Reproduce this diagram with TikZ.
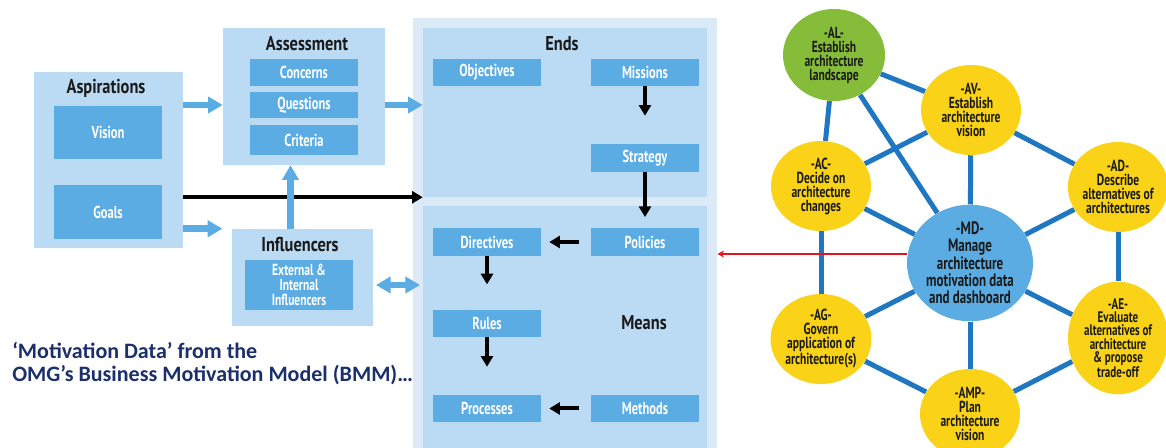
\documentclass[tikz,border=0pt]{standalone}
\usepackage{fontspec}
\setmainfont{PT Sans}
\newfontfamily\cnd[FakeStretch=0.72]{PT Sans}
\newfontfamily\hdf[FakeStretch=0.82]{PT Sans}
\newfontfamily\notefont{Carlito}
\usetikzlibrary{arrows.meta,shapes.geometric,calc,backgrounds}
\definecolor{pale}{HTML}{DCEAF7}
\definecolor{light}{HTML}{BBDAF3}
\definecolor{mid}{HTML}{5AACE3}
\definecolor{edgeblue}{HTML}{1E77C0}
\definecolor{sun}{HTML}{FAD318}
\definecolor{leaf}{HTML}{85BD3B}
\definecolor{navy}{HTML}{1B2F6B}
\definecolor{ink}{HTML}{1A1A1A}
\definecolor{arrowred}{HTML}{E3141B}

\begin{document}
\begin{tikzpicture}[x=0.75pt,y=-0.75pt,
  container/.style={fill=pale, draw=none, inner sep=0},
  panel/.style={fill=light, draw=none, inner sep=0},
  item/.style={fill=mid, draw=none, inner sep=0, text=white,
    font=\cnd\bfseries\fontsize{13}{10.5}\selectfont, align=center,
    minimum width=81pt, minimum height=20.25pt},
  heading/.style={text=ink, font=\hdf\bfseries\fontsize{15}{15}\selectfont, inner sep=0},
  flow/.style={-{Triangle[length=8pt,width=9pt]}, line width=3pt, black},
  feed/.style={-{Triangle[length=11pt,width=12pt]}, line width=5pt, mid},
  link/.style={line width=3.75pt, edgeblue},
  phase/.style={ellipse, inner sep=0, fill=sun, minimum width=75pt, minimum height=67.5pt,
    align=center, text=ink, font=\cnd\bfseries\fontsize{12}{10.5}\selectfont},
]
\useasboundingbox (0,0) rectangle (1166,448);

% ---------- Business Motivation Model ----------
\node[container, minimum width=228pt, minimum height=322.5pt] (bmm) at (565,233) {};
\node[panel, minimum width=213pt, minimum height=126.75pt] (ends) at (565,112.5) {};
\node[panel, minimum width=213pt, minimum height=181.5pt] (means) at (565,327) {};
\node[heading] (endsT) at (562,44) {Ends};
\node[heading] (meansT) at (644,323) {Means};

\node[item] (obj) at (487,72.5) {Objectives};
\node[item] (mis) at (645,72.5) {Missions};
\node[item, minimum height=21pt] (str) at (645,158) {Strategy};
\node[item, minimum height=21pt] (dir) at (487,242) {Directives};
\node[item, minimum height=21pt] (pol) at (645,242) {Policies};
\node[item] (rul) at (487,323.5) {Rules};
\node[item] (pro) at (487,408.5) {Processes};
\node[item] (met) at (645,408.5) {Methods};

% Aspirations
\node[panel, minimum width=111.75pt, minimum height=132pt] (asp) at (108.5,160) {};
\node[heading] (aspT) at (106,88) {Aspirations};
\node[item, minimum height=39.75pt] (vis) at (108,132.5) {Vision};
\node[item, minimum height=40.5pt] (gls) at (108,212) {Goals};

% Assessment
\node[panel, minimum width=121.5pt, minimum height=102.75pt] (ass) at (304,96.5) {};
\node[heading] (assT) at (307,44) {Assessment};
\node[item] (con) at (304,72.5) {Concerns};
\node[item, minimum height=19.5pt] (qst) at (304,105) {Questions};
\node[item, minimum height=22.5pt] (cri) at (304,140) {Criteria};

% Influencers
\node[panel, minimum width=105.75pt, minimum height=72.75pt] (inf) at (302.5,277.5) {};
\node[heading] (infT) at (300,245) {Influencers};
\node[item, minimum height=37.5pt, font=\cnd\bfseries\fontsize{12}{11.5}\selectfont] (ext) at (299,285) {External \&\\Internal\\Influencers};

% flow inside Ends / Means
\draw[flow, shorten >=21pt] (mis) -- (str);
\draw[flow, shorten >=8pt] (str) -- (pol);
\draw[flow, shorten <=9pt, shorten >=6pt] (pol) -- (dir);
\draw[flow, shorten >=19pt] (dir) -- (rul);
\draw[flow, shorten >=21pt] (rul) -- (pro);
\draw[flow, shorten <=9pt, shorten >=6pt] (met) -- (pro);
\draw[flow] (asp.east |- ends.south) -- (ends.south west);

% feeds between the groups
\draw[feed] (asp.east |- qst) -- (ass.west |- qst);
\draw[feed] (ass.east |- qst) -- (ends.west |- qst);
\draw[feed, shorten >=7pt] (asp.east |- inf.north) -- (inf.west |- inf.north);
\coordinate (up) at ($(inf.north)+(-12,0)$);
\draw[feed] (up) -- (up |- ass.south);
\draw[{Triangle[length=11pt,width=12pt]}-{Triangle[length=11pt,width=12pt]}, line width=5pt, mid,
  shorten <=2pt, shorten >=2pt] (inf.east |- ext) -- (means.west |- ext);

\node[anchor=north west, align=left, inner sep=0, text=navy,
  font=\notefont\bfseries\fontsize{16.5}{17.5}\selectfont] (note) at (12,342)
  {‘Motivation Data’ from the\\OMG’s Business Motivation Model (BMM)…};

% ---------- Architecture capabilities ----------
\node[phase, fill=leaf, minimum width=76.5pt, minimum height=69pt] (al) at (834,55) {-AL-\\Establish\\architecture\\landscape};
\node[phase] (av) at (971,110) {-AV-\\Establish\\architecture\\vision};
\node[phase] (ac) at (821,186) {-AC-\\Decide on\\architecture\\changes};
\node[phase] (ad) at (1118,187) {-AD-\\Describe\\alternatives of\\architectures};
\node[phase, fill=mid, minimum width=94.5pt, minimum height=85.5pt,
  font=\cnd\bfseries\fontsize{13.5}{13}\selectfont] (md) at (970,263)
  {-MD-\\Manage\\architecture\\motivation data\\and dashboard};
\node[phase] (ag) at (821,339) {-AG-\\Govern\\application of\\architecture(s)};
\node[phase, font=\cnd\bfseries\fontsize{11.5}{10}\selectfont] (ae) at (1118,338) {-AE-\\Evaluate\\alternatives of\\architecture\\\& propose\\trade-off};
\node[phase] (amp) at (970,414) {-AMP-\\Plan\\architecture\\vision};

\coordinate (rs) at ($(md.west)+(0,-9)$);
\draw[-{Stealth[length=5pt,width=5pt]}, line width=1.5pt, arrowred] (rs) -- (rs -| bmm.east);

\begin{scope}[on background layer]
  \fill[white] (0,0) rectangle (1166,448);
  \draw[link] (al) -- (av);
  \draw[link] (al) -- (ac);
  \draw[link] (al) -- (md);
  \draw[link] (av) -- (ac);
  \draw[link] (av) -- (md);
  \draw[link] (av) -- (ad);
  \draw[link] (ac) -- (md);
  \draw[link] (ad) -- (md);
  \draw[link] (ad) -- (ae);
  \draw[link] (ac) -- (ag);
  \draw[link] (md) -- (ag);
  \draw[link] (md) -- (ae);
  \draw[link] (md) -- (amp);
  \draw[link] (ag) -- (amp);
  \draw[link] (ae) -- (amp);
\end{scope}
\end{tikzpicture}
\end{document}
